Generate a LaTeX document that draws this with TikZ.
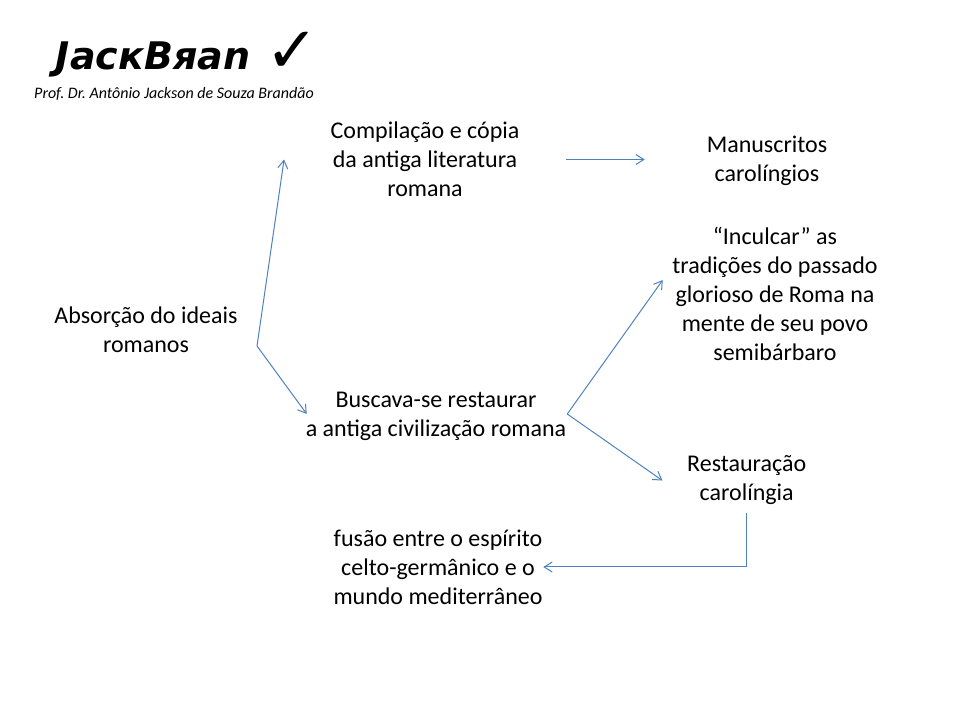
\documentclass[tikz,border=0pt]{standalone}
\usepackage{fontspec}
\setmainfont{Carlito}
\newfontfamily\logofont[BoldFeatures={FakeBold=2}]{DejaVu Sans}
\usetikzlibrary{positioning,arrows.meta}
\definecolor{linkblue}{HTML}{4F81BD}
\tikzset{
  body/.style={inner sep=0pt, align=center, font=\fontsize{18}{21.75}\selectfont},
  link/.style={draw=linkblue, line width=0.75pt, -{Straight Barb[length=6pt,width=7.5pt]}}
}

\begin{document}
\begin{tikzpicture}[on grid]
  \useasboundingbox (0pt,0pt) rectangle (720pt,540pt);

  \node (title) [inner sep=0pt, font=\logofont\bfseries\itshape\fontsize{28.5}{28.5}\selectfont] at (114.75pt,495.4pt) {JacкBяan};
  \node (check) [right=104.25pt of title, yshift=5pt, inner sep=0pt, font=\logofont\fontsize{48}{48}\selectfont] {✓};
  \node (prof) [below right=26pt and 15.75pt of title, inner sep=0pt, font=\itshape\fontsize{12}{14}\selectfont] {Prof.\ Dr.\ Antônio Jackson de Souza Brandão};

  \node (absorcao) [body] at (109.5pt,292.5pt) {Absorção do ideais\\romanos};
  \node (comp) [body, minimum width=211pt, above right=127.85pt and 209.25pt of absorcao] {Compilação e cópia\\da antiga literatura\\romana};
  \node (manu) [body, minimum width=183pt, below right=1.1pt and 256.5pt of comp] {Manuscritos\\carolíngios};
  \node (incul) [body, minimum width=168pt, below right=99.75pt and 6pt of manu] {“Inculcar” as\\tradições do passado\\glorioso de Roma na\\mente de seu povo\\semibárbaro};
  \node (busc) [body, minimum width=196.5pt, below right=192.35pt and 8.25pt of comp] {Buscava-se restaurar\\a antiga civilização romana};
  \node (rest) [body, minimum width=126pt, minimum height=49pt, below right=48.4pt and 233pt of busc] {Restauração\\carolíngia};
  \node (fusao) [body, minimum width=157.5pt, below right=113.25pt and 1.5pt of busc] {fusão entre o espírito\\celto-germânico e o\\mundo mediterrâneo};

  \coordinate (fork) at ([xshift=83.25pt,yshift=-12pt]absorcao.center);
  \coordinate (inculin) at ([yshift=10.5pt]incul.west);
  \coordinate (buscin) at ([xshift=1.5pt,yshift=1.5pt]busc.west);
  \coordinate (buscout) at ([yshift=1.5pt]busc.east);

  \draw [link] (fork) -- (comp.west);
  \draw [link] (fork) -- (buscin);
  \draw [link] (comp.east) -- (comp.east -| manu.west);
  \draw [link] (buscout) -- (inculin);
  \draw [link] (buscout) -- (rest.west);
  \draw [link] (rest.south) |- (fusao.east);
\end{tikzpicture}
\end{document}
